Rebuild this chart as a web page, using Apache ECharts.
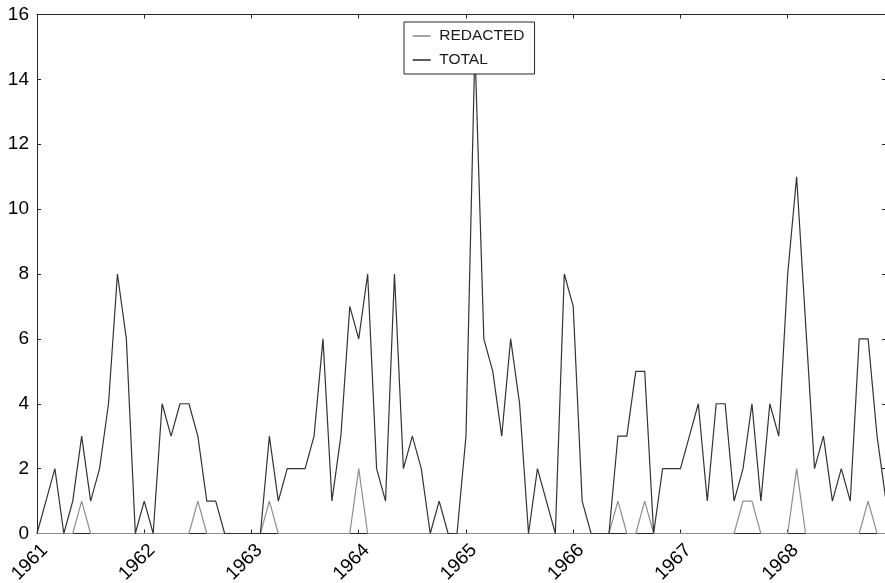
<!DOCTYPE html>
<html>
<head>
<meta charset="utf-8">
<script src="https://cdn.jsdelivr.net/npm/echarts@6/dist/echarts.min.js"></script>
<style>
html,body{margin:0;padding:0;background:#fff;}
#chart{width:885px;height:583px;}
</style>
</head>
<body>
<div id="chart"></div>
<script>
// Monthly counts, Jan 1961 onward (index 0 = Jan 1961)
const startYear = 1961;
const yearLabels = ['1961','1962','1963','1964','1965','1966','1967','1968'];
const seriesNames = ['REDACTED','TOTAL'];
const redacted = [
  0,0,0,0,0,1,0,0,0,0,0,0,
  0,0,0,0,0,0,1,0,0,0,0,0,
  0,0,1,0,0,0,0,0,0,0,0,0,
  2,0,0,0,0,0,0,0,0,0,0,0,
  0,0,0,0,0,0,0,0,0,0,0,0,
  0,0,0,0,0,1,0,0,1,0,0,0,
  0,0,0,0,0,0,0,1,1,0,0,0,
  0,2,0,0,0,0,0,0,0,1,0,0
];
const total = [
  0,1,2,0,1,3,1,2,4,8,6,0,
  1,0,4,3,4,4,3,1,1,0,0,0,
  0,0,3,1,2,2,2,3,6,1,3,7,
  6,8,2,1,8,2,3,2,0,1,0,0,
  3,15,6,5,3,6,4,0,2,1,0,8,
  7,1,0,0,0,3,3,5,5,0,2,2,
  2,3,4,1,4,4,1,2,4,1,4,3,
  8,11,6.5,2,3,1,2,1,6,6,3,1
];
const yTicks = [0,2,4,6,8,10,12,14,16];

const toPairs = arr => arr.map((v, i) => [i, v]);
const font = 'Liberation Sans, Arial, Helvetica, sans-serif';
const axisColor = '#262626';

const chart = echarts.init(document.getElementById('chart'), null, {renderer: 'canvas'});
const lastIdx = total.length - 1;

chart.setOption({
  animation: false,
  backgroundColor: '#ffffff',
  grid: {left: 37, right: -1, top: 14.5, bottom: 49.5, containLabel: false, outerBoundsMode: 'none'},
  legend: {
    orient: 'vertical',
    left: 404,
    top: 22,
    z: 20,
    zlevel: 0,
    padding: [6, 10, 6, 8.7],
    itemGap: 8,
    itemWidth: 18,
    itemHeight: 1.6,
    backgroundColor: '#ffffff',
    borderColor: axisColor,
    borderWidth: 1,
    borderRadius: 0,
    textStyle: {fontFamily: font, fontSize: 15.5, color: '#1a1a1a', lineHeight: 16, padding: [0, 0, 0, 3.6]},
    data: seriesNames.map(n => ({name: n, icon: 'rect'}))
  },
  xAxis: [{
    type: 'value',
    min: 0,
    max: lastIdx,
    interval: 12,
    position: 'bottom',
    splitLine: {show: false},
    axisLine: {show: true, onZero: false, lineStyle: {color: axisColor, width: 1}},
    axisTick: {show: true, inside: true, length: 4, lineStyle: {color: axisColor}},
    axisLabel: {
      show: true,
      rotate: 45,
      margin: 6,
      verticalAlign: 'top',
      align: 'right',
      lineHeight: 22,
      fontFamily: font,
      fontSize: 19,
      color: '#000',
      showMaxLabel: false,
      hideOverlap: false,
      formatter: v => (v % 12 === 0 && yearLabels[v / 12] !== undefined) ? yearLabels[v / 12] : ''
    }
  }, {
    type: 'value',
    min: 0,
    max: lastIdx,
    interval: 12,
    position: 'top',
    splitLine: {show: false},
    axisLine: {show: true, onZero: false, lineStyle: {color: axisColor, width: 1}},
    axisTick: {show: true, inside: true, length: 4, lineStyle: {color: axisColor}},
    axisLabel: {show: false}
  }],
  yAxis: [{
    type: 'value',
    min: yTicks[0],
    max: yTicks[yTicks.length - 1],
    interval: 2,
    position: 'left',
    splitLine: {show: false},
    axisLine: {show: true, onZero: false, lineStyle: {color: axisColor, width: 1}},
    axisTick: {show: true, inside: true, length: 4, lineStyle: {color: axisColor}},
    axisLabel: {show: true, margin: 8, fontFamily: font, fontSize: 19, color: '#000'}
  }, {
    type: 'value',
    min: yTicks[0],
    max: yTicks[yTicks.length - 1],
    interval: 2,
    position: 'right',
    splitLine: {show: false},
    axisLine: {show: true, onZero: false, lineStyle: {color: axisColor, width: 1}},
    axisTick: {show: true, inside: true, length: 4, lineStyle: {color: axisColor}},
    axisLabel: {show: false}
  }],
  series: [{
    name: seriesNames[0],
    type: 'line',
    data: toPairs(redacted),
    showSymbol: false,
    symbol: 'none',
    color: '#8f8f8f',
    lineStyle: {color: '#8f8f8f', width: 1.2},
    z: 2,
    clip: true
  }, {
    name: seriesNames[1],
    type: 'line',
    data: toPairs(total),
    showSymbol: false,
    symbol: 'none',
    color: '#333333',
    lineStyle: {color: '#333333', width: 1.2},
    z: 3,
    clip: true
  }]
});
</script>
</body>
</html>
